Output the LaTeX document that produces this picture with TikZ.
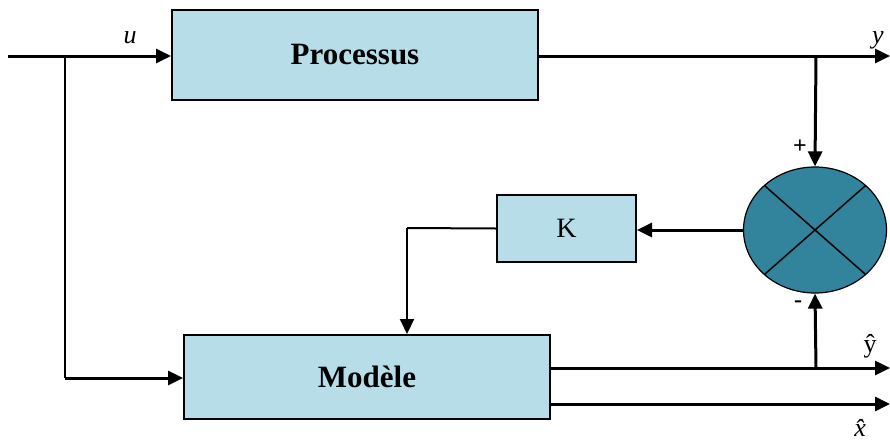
\documentclass[tikz,border=0pt]{standalone}
\usepackage{fontspec}
\setmainfont{Liberation Serif}
\usetikzlibrary{arrows.meta,shapes.geometric,calc}
\definecolor{boxfill}{HTML}{B7DDE8}
\definecolor{sumfill}{HTML}{31849B}
\tikzset{
  blk/.style={draw=black,line width=2pt,fill=boxfill,inner sep=0pt},
  sig/.style={line width=3pt,-{Triangle[length=15pt,width=14pt]}},
  thinsig/.style={line width=2pt,-{Triangle[length=15pt,width=14pt]}},
  wire/.style={line width=2pt},
  lbl/.style={inner sep=0pt,font=\fontsize{26}{28}\selectfont}
}
\begin{document}
\begin{tikzpicture}[x=1pt,y=-1pt]
\useasboundingbox (0,0) rectangle (890,442);
% blocks
\node[blk,minimum width=366pt,minimum height=90pt] (proc) at (355,55) {\fontsize{31}{32}\selectfont\bfseries Processus};
\node[blk,minimum width=366pt,minimum height=84pt] (mod) at (367,377) {\fontsize{31}{32}\selectfont\bfseries Modèle};
\node[blk,minimum width=139pt,minimum height=67pt] (K) at (566.5,228.5) {\fontsize{28}{29}\selectfont K};
\node[draw=black,line width=1.2pt,fill=sumfill,ellipse,inner sep=0pt,minimum width=143pt,minimum height=126pt] (sum) at (815,230) {};
\draw[line width=1.5pt] ($(sum.center)+(-50.6,-44.5)$) -- ($(sum.center)+(50.6,44.5)$);
\draw[line width=1.5pt] ($(sum.center)+(50.6,-44.5)$) -- ($(sum.center)+(-50.6,44.5)$);
% coordinates
\coordinate (in) at (8,56);
\coordinate (b1) at (65,56);
\coordinate (yout) at (890,56);
\coordinate (b2) at (816,56);
\coordinate (yh) at (890,368);
\coordinate (xh) at (890,404);
\coordinate (b3) at (816,368);
\coordinate (kd) at (407,228);
% connectors
\draw[sig] (in) -- (in -| proc.west);
\draw[wire] (b1) -- (65,378) coordinate (b1d);
\draw[sig] (b1d) -- (b1d -| mod.west);
\draw[sig] (yout -| proc.east) -- (yout);
\draw[sig] (b2) -- (sum.north);
\draw[sig] (sum.west) -- (sum.west -| K.east);
\draw[wire] (K.west) -- (kd);
\draw[thinsig] (kd) -- (kd |- mod.north);
\draw[sig] (yh -| mod.east) -- (yh);
\draw[sig] (xh -| mod.east) -- (xh);
\draw[sig] (b3) -- (sum.south);
% labels
\node[lbl] (lu) at (130,38) {\textit{u}};
\node[lbl] (ly) at (878,40) {\textit{y}};
\node[lbl,font=\fontsize{24}{26}\selectfont\bfseries] (lp) at (800,147) {+};
\node[lbl,font=\fontsize{24}{26}\selectfont\bfseries] (lm) at (798,304) {-};
\node[lbl] (lyh) at (870,346) {ŷ};
\node[lbl] (lxh) at (865,428) {\textit{\^{x}}};
\end{tikzpicture}
\end{document}
